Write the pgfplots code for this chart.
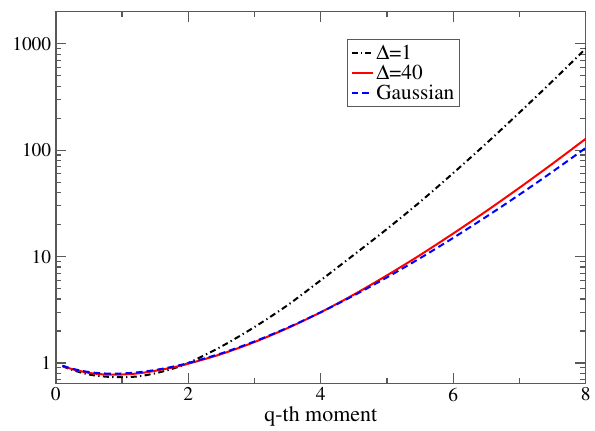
\documentclass[border=0pt]{standalone}
\usepackage[T1]{fontenc}
\usepackage{mathptmx}
\usepackage{pgfplots}
\pgfplotsset{compat=1.18}

\begin{document}
\begin{tikzpicture}
\begin{axis}[
    scale only axis,
    width=398.5pt, height=279.75pt,
    xmin=0, xmax=8,
    ymode=log,
    ymin=0.645, ymax=2020,
    xtick={0,2,4,6,8},
    minor xtick={1,3,5,7},
    ytick={1,10,100,1000},
    yticklabels={1,10,100,1000},
    minor ytick={0.7,0.8,0.9,2,3,4,5,6,7,8,9,20,30,40,50,60,70,80,90,200,300,400,500,600,700,800,900,2000},
    tick label style={font=\fontsize{14.6}{16}\selectfont, black},
    xlabel={q-th moment},
    xlabel style={font=\fontsize{16.5}{18}\selectfont, yshift=3pt},
    axis line style={black!65, line width=1pt},
    every tick/.style={black!65, line width=0.9pt},
    major tick length=8pt,
    minor tick length=4pt,
    legend style={at={(0.55,0.925)}, anchor=north west,
        draw=black!65, line width=0.9pt, fill=white,
        font=\fontsize{16}{16}\selectfont,
        inner sep=2pt, row sep=-1.5pt},
    legend cell align=left,
    legend image post style={line width=1.5pt},
    legend image code/.code={\draw[#1] (0cm,0cm) -- (0.56cm,0cm);},
]
% Delta = 1
\addplot[black, line width=1.5pt, smooth,
    dash pattern=on 4.5pt off 2.5pt on 1pt off 2.5pt] coordinates {
    (0.1,0.935) (0.25,0.86) (0.5,0.78) (0.75,0.745) (1,0.735)
    (1.25,0.75) (1.5,0.80) (1.75,0.88) (2,1.0) (2.5,1.43)
    (3,2.18) (3.5,3.5) (4,6.0) (4.5,10.4) (5,18.2) (5.5,32.7)
    (6,61) (6.5,116) (7,226) (7.5,447) (8,900)
};
\addlegendentry{$\Delta$=1}
% Delta = 40
\addplot[red, line width=1.5pt, smooth] coordinates {
    (0.1,0.94) (0.25,0.875) (0.5,0.808) (0.75,0.78) (1,0.78)
    (1.25,0.80) (1.5,0.845) (1.75,0.905) (2,0.985) (2.5,1.215)
    (3,1.575) (3.5,2.13) (4,3.0) (4.5,4.40) (5,6.67) (5.5,10.35)
    (6,16.5) (6.5,26.8) (7,44.4) (7.5,74.8) (8,128)
};
\addlegendentry{$\Delta$=40}
% Gaussian
\addplot[blue, line width=1.5pt, smooth,
    dash pattern=on 5pt off 3pt] coordinates {
    (0.1,0.944) (0.25,0.883) (0.5,0.822) (0.75,0.797) (1,0.798)
    (1.25,0.819) (1.5,0.860) (1.75,0.920) (2,1.0) (2.5,1.233)
    (3,1.596) (3.5,2.150) (4,3.0) (4.5,4.316) (5,6.383) (5.5,9.675)
    (6,15.0) (6.5,23.74) (7,38.30) (7.5,62.89) (8,105)
};
\addlegendentry{Gaussian}
\end{axis}
\path (current axis.south west) ++(-42pt,-34.3pt) coordinate (bbA);
\path (current axis.north east) ++(5.5pt,8.5pt) coordinate (bbB);
\path[use as bounding box] (bbA) rectangle (bbB);
\end{tikzpicture}
\end{document}
